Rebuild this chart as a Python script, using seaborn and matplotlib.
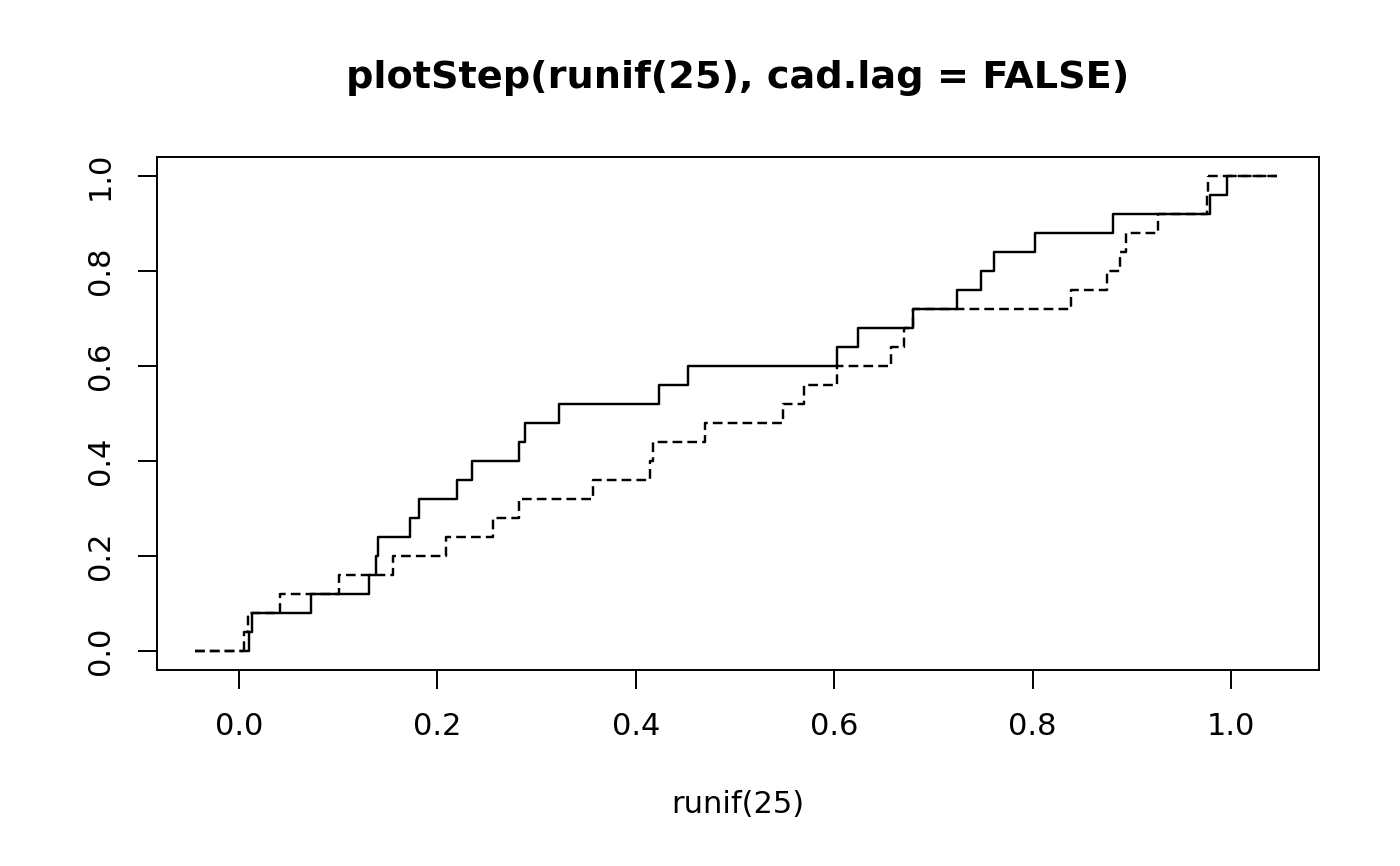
import numpy as np
import pandas as pd
import matplotlib
matplotlib.use("Agg")
import matplotlib.pyplot as plt
import seaborn as sns

# ---- data ----
levels = [0.04, 0.08, 0.12, 0.16, 0.20, 0.24, 0.28, 0.32, 0.36, 0.40,
          0.44, 0.48, 0.52, 0.56, 0.60, 0.64, 0.68, 0.72, 0.76, 0.80,
          0.84, 0.88, 0.92, 0.96, 1.00]
solid_x = [0.0104, 0.0128, 0.0723, 0.1314, 0.1380, 0.1405, 0.1724, 0.1818,
           0.2200, 0.2352, 0.2826, 0.2887, 0.3229, 0.4237, 0.4530, 0.6032,
           0.6243, 0.6798, 0.7235, 0.7480, 0.7614, 0.8024, 0.8807, 0.9788,
           0.9957]
dashed_x = [0.0054, 0.0094, 0.0413, 0.1005, 0.1556, 0.2087, 0.2564, 0.2826,
            0.3565, 0.4143, 0.4177, 0.4698, 0.5487, 0.5699, 0.6025, 0.6570,
            0.6704, 0.6790, 0.8387, 0.8747, 0.8881, 0.8938, 0.9268, 0.9761,
            0.9770]
x_left_end = -0.044
x_right_end = 1.046
xticks = [0.0, 0.2, 0.4, 0.6, 0.8, 1.0]
yticks = [0.0, 0.2, 0.4, 0.6, 0.8, 1.0]
title = "plotStep(runif(25), cad.lag = FALSE)"
xlabel = "runif(25)"

sns.set_style("ticks")
plt.rcParams['font.family'] = ['DejaVu Sans']
plt.rcParams['text.color'] = 'black'
plt.rcParams['axes.labelcolor'] = 'black'

fig = plt.figure(figsize=(14, 8.66), dpi=100)
ax_box = [0.1121, 0.2263, 0.8300, 0.5924]
ax = fig.add_axes(ax_box)

lw = 1.75
dash = (4.0, 2.1)

def draw(xs, style_dashes):
    x = [xs[0]] + list(xs)
    y = [0.0] + list(levels)
    sns.lineplot(x=x, y=y, ax=ax, drawstyle="steps-post", estimator=None,
                 sort=False, color="black", linewidth=lw)
    if style_dashes:
        ax.lines[-1].set_dashes(dash)
    # end segments (dashed)
    sns.lineplot(x=[x_left_end, xs[0]], y=[0.0, 0.0], ax=ax, estimator=None,
                 sort=False, color="black", linewidth=lw)
    ax.lines[-1].set_dashes(dash)
    sns.lineplot(x=[xs[-1], x_right_end], y=[1.0, 1.0], ax=ax, estimator=None,
                 sort=False, color="black", linewidth=lw)
    ax.lines[-1].set_dashes(dash)

draw(solid_x, False)
draw(dashed_x, True)

ax.set_xlim(-0.0827, 1.0887)
ax.set_ylim(-0.04, 1.04)
ax.set_xticks(xticks)
ax.set_yticks(yticks)
ax.set_xticklabels([f"{t:.1f}" for t in xticks])
ax.set_yticklabels([f"{t:.1f}" for t in yticks], rotation=90, va="center")
ax.tick_params(axis="both", direction="out", length=13.5, width=1.4,
               labelsize=22, color="black", labelcolor="black")
ax.tick_params(axis="x", pad=17)
ax.tick_params(axis="y", pad=17)
for s in ax.spines.values():
    s.set_visible(True)
    s.set_linewidth(1.4)
    s.set_color("black")
ax.set_xlabel(xlabel, fontsize=22, labelpad=35, color="black")
ax.set_ylabel("")
fig.text(ax_box[0] + ax_box[2] / 2, 1 - 78 / 866, title, ha="center",
         va="center", fontsize=27.5, fontweight="bold", color="black")

fig.savefig("out.png", dpi=100, facecolor="white")
